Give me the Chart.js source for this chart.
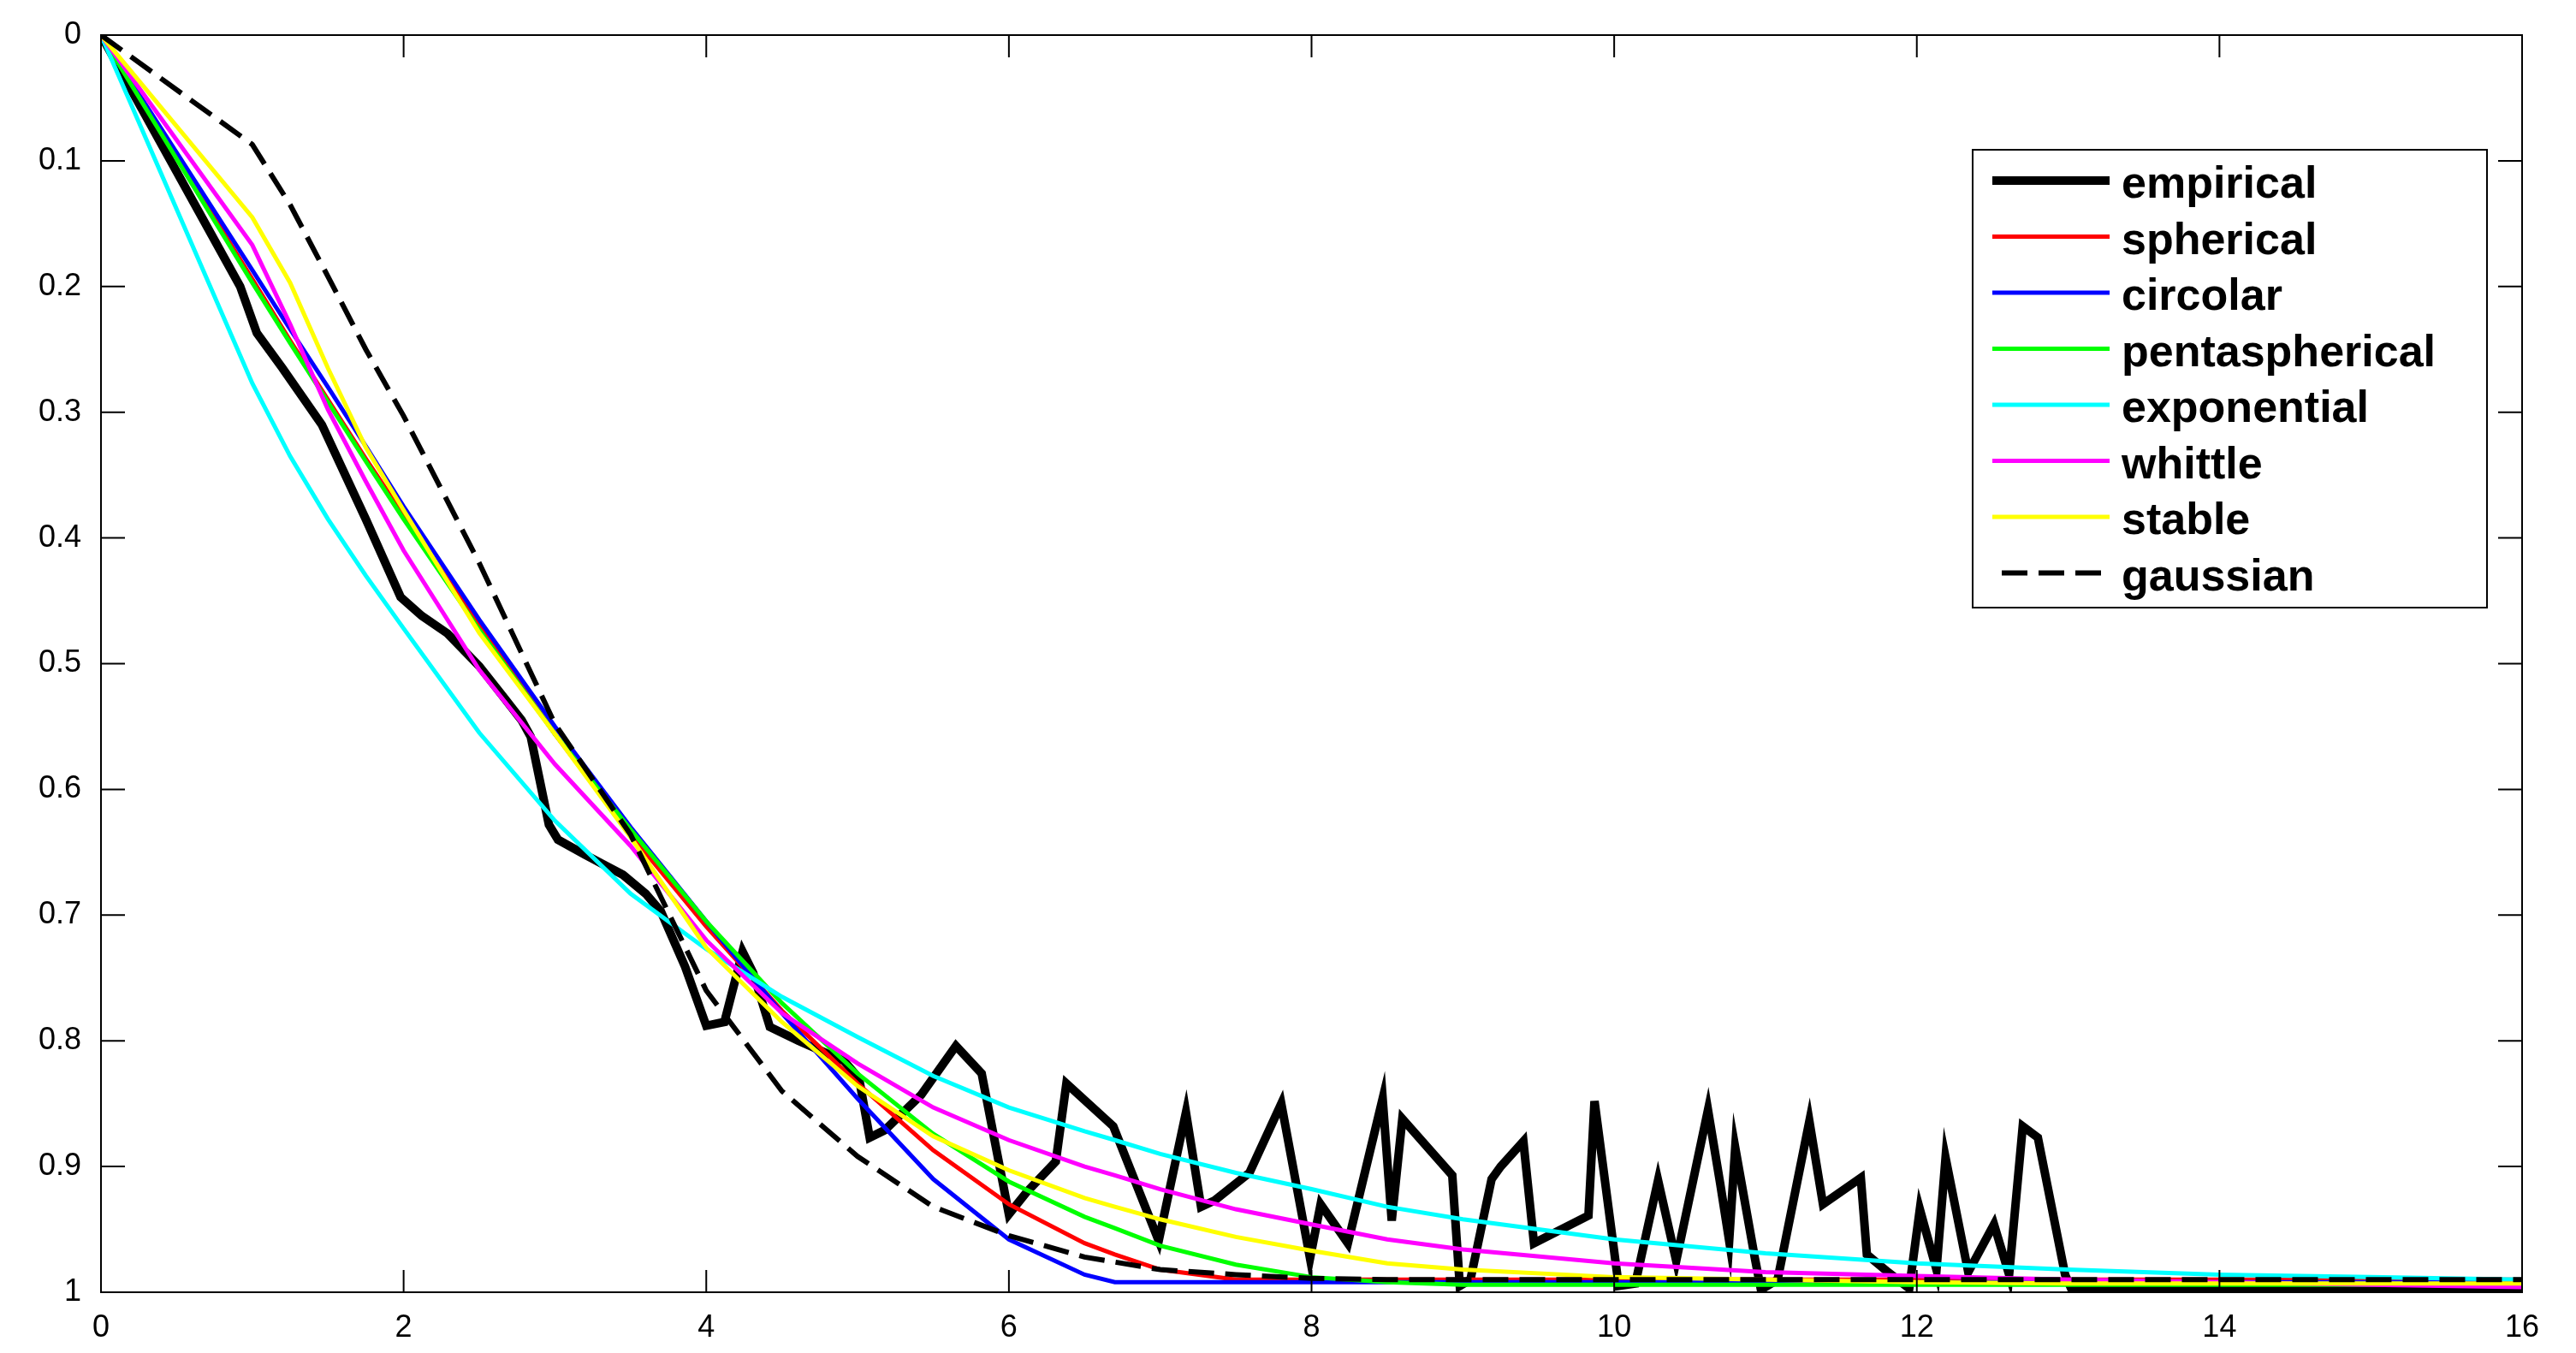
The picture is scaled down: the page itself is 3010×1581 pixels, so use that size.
<!DOCTYPE html>
<html>
<head>
<meta charset="utf-8">
<title>Empirical vs fitted models</title>
<script src="https://cdn.jsdelivr.net/npm/chart.js@4.4.1/dist/chart.umd.min.js"></script>
<style>
  html, body { margin: 0; padding: 0; background: #fff; }
  #wrap { width: 3010px; height: 1581px; }
</style>
</head>
<body>
<div id="wrap"><canvas id="chart" width="3010" height="1581"></canvas></div>
<script>
// axis ticks
const xTicks = [0, 2, 4, 6, 8, 10, 12, 14, 16];
const xTickLabels = ['0', '2', '4', '6', '8', '10', '12', '14', '16'];
const yTicks = [0, 0.1, 0.2, 0.3, 0.4, 0.5, 0.6, 0.7, 0.8, 0.9, 1];
const yTickLabels = ['0', '0.1', '0.2', '0.3', '0.4', '0.5', '0.6', '0.7', '0.8', '0.9', '1'];

// empirical curve (irregular lags)
const empLags = [0, 0.46, 0.92, 1.03, 1.2, 1.46, 1.75, 1.98, 2.12, 2.29, 2.5, 2.67, 2.78, 2.84, 2.9, 2.96, 3.02, 3.2, 3.45, 3.6, 3.7, 3.86,
  4.0, 4.12, 4.24, 4.31, 4.42, 4.61, 4.91, 5.01, 5.08, 5.18, 5.42, 5.65, 5.82, 6.0, 6.12, 6.31, 6.38, 6.69, 6.99, 7.17, 7.27, 7.36, 7.59, 7.8, 7.99,
  8.06, 8.24, 8.47, 8.53, 8.6, 8.93, 8.98, 9.05, 9.19, 9.25, 9.4, 9.47, 9.83, 9.87, 10.03, 10.14, 10.29, 10.41, 10.62, 10.7, 10.76, 10.8,
  10.93, 10.97, 11.08, 11.29, 11.38, 11.63, 11.67, 11.81, 11.95, 12.02, 12.13, 12.19, 12.34, 12.51, 12.61, 12.7, 12.8, 12.98, 13.02, 16];
const empirical = [0, 0.1, 0.2, 0.237, 0.265, 0.31, 0.385, 0.447, 0.462, 0.476, 0.502, 0.528, 0.545, 0.558, 0.593, 0.628, 0.64, 0.652, 0.668, 0.683, 0.697, 0.741,
  0.788, 0.785, 0.729, 0.746, 0.789, 0.8, 0.816, 0.83, 0.877, 0.871, 0.843, 0.804, 0.826, 0.938, 0.92, 0.896, 0.834, 0.868, 0.959, 0.857, 0.932, 0.927, 0.905, 0.85, 0.973,
  0.93, 0.961, 0.846, 0.943, 0.862, 0.907, 0.995, 0.99, 0.91, 0.9, 0.88, 0.961, 0.939, 0.848, 0.995, 0.993, 0.911, 0.975, 0.855, 0.913, 0.959, 0.885,
  0.973, 0.998, 0.99, 0.864, 0.93, 0.909, 0.97, 0.984, 0.997, 0.934, 0.982, 0.893, 0.984, 0.946, 0.986, 0.868, 0.877, 0.986, 0.997, 0.998];

// fitted models, shared lag grid
const modelLags = [0, 1, 1.25, 1.5, 1.75, 2, 2.5, 3, 3.5, 4, 4.5, 5, 5.5, 6, 6.5, 6.7, 7, 7.5, 8, 8.5, 9, 10, 11, 12, 13, 14, 15, 16];
const spherical = [0, 0.194, 0.243, 0.29, 0.337, 0.382, 0.47, 0.556, 0.636, 0.709, 0.776, 0.834, 0.887, 0.93, 0.961, 0.97, 0.982, 0.99, 0.99, 0.99, 0.99, 0.99, 0.99, 0.99, 0.99, 0.99, 0.99, 0.99];
const circolar = [0, 0.187, 0.234, 0.28, 0.327, 0.375, 0.465, 0.55, 0.63, 0.705, 0.778, 0.846, 0.91, 0.958, 0.986, 0.992, 0.992, 0.992, 0.992, 0.992, 0.992, 0.992, 0.992, 0.992, 0.992, 0.992, 0.992, 0.992];
const pentaspherical = [0, 0.197, 0.245, 0.292, 0.339, 0.385, 0.473, 0.556, 0.632, 0.705, 0.77, 0.826, 0.874, 0.912, 0.94, 0.949, 0.963, 0.978, 0.988, 0.992, 0.994, 0.994, 0.994, 0.994, 0.994, 0.994, 0.994, 0.994];
const exponential = [0, 0.277, 0.335, 0.385, 0.43, 0.472, 0.555, 0.625, 0.683, 0.727, 0.765, 0.797, 0.828, 0.853, 0.872, 0.879, 0.89, 0.905, 0.918, 0.932, 0.942, 0.958, 0.969, 0.977, 0.982, 0.986, 0.988, 0.99];
const whittle = [0, 0.167, 0.23, 0.298, 0.355, 0.41, 0.505, 0.58, 0.645, 0.72, 0.778, 0.818, 0.853, 0.879, 0.9, 0.907, 0.918, 0.934, 0.946, 0.958, 0.966, 0.977, 0.984, 0.987, 0.99, 0.992, 0.994, 0.996];
const stable = [0, 0.145, 0.197, 0.265, 0.328, 0.378, 0.4755, 0.556, 0.638, 0.726, 0.785, 0.836, 0.876, 0.903, 0.925, 0.932, 0.942, 0.956, 0.967, 0.977, 0.982, 0.988, 0.99, 0.992, 0.993, 0.993, 0.993, 0.993];
const gaussian = [0, 0.087, 0.135, 0.192, 0.25, 0.303, 0.42, 0.548, 0.636, 0.76, 0.84, 0.892, 0.932, 0.955, 0.972, 0.976, 0.982, 0.986, 0.989, 0.99, 0.99, 0.99, 0.99, 0.99, 0.99, 0.99, 0.99, 0.99];

const FONT = '"Liberation Sans", Arial, sans-serif';
const pts = (xs, ys) => xs.map((x, i) => ({ x, y: ys[i] }));

function line(label, xs, ys, color, width, order, dash) {
  return {
    label, data: pts(xs, ys), borderColor: color, backgroundColor: color,
    borderWidth: width, borderDash: dash || [], pointRadius: 0, tension: 0,
    fill: false, order, borderJoinStyle: 'miter'
  };
}

// box, inward ticks and a MATLAB style legend
const frame = {
  id: 'frame',
  afterDatasetsDraw(chart) {
    const { ctx, chartArea: a, scales } = chart;
    ctx.save();
    ctx.strokeStyle = '#000';
    ctx.lineWidth = 2;
    ctx.setLineDash([]);
    ctx.strokeRect(a.left, a.top, a.right - a.left, a.bottom - a.top);
    ctx.beginPath();
    xTicks.forEach((v) => {
      const px = scales.x.getPixelForValue(v);
      ctx.moveTo(px, a.bottom); ctx.lineTo(px, a.bottom - 26);
      ctx.moveTo(px, a.top); ctx.lineTo(px, a.top + 26);
    });
    yTicks.forEach((v) => {
      const py = scales.y.getPixelForValue(v);
      ctx.moveTo(a.left, py); ctx.lineTo(a.left + 28, py);
      ctx.moveTo(a.right, py); ctx.lineTo(a.right - 28, py);
    });
    ctx.stroke();
    ctx.restore();
  },
  afterDraw(chart) {
    const ctx = chart.ctx;
    const box = { left: 2305, top: 175, right: 2906, bottom: 710 };
    ctx.save();
    ctx.fillStyle = '#fff';
    ctx.fillRect(box.left, box.top, box.right - box.left, box.bottom - box.top);
    ctx.strokeStyle = '#000';
    ctx.lineWidth = 2;
    ctx.strokeRect(box.left, box.top, box.right - box.left, box.bottom - box.top);
    ctx.font = 'bold 52px ' + FONT;
    ctx.textBaseline = 'alphabetic';
    chart.data.datasets.forEach((d, i) => {
      const y = 211 + i * 65.5;
      const dashed = d.borderDash && d.borderDash.length;
      ctx.beginPath();
      ctx.strokeStyle = d.borderColor;
      ctx.lineWidth = d.borderWidth;
      ctx.lineCap = 'butt';
      ctx.setLineDash(dashed ? d.borderDash : []);
      ctx.moveTo(dashed ? 2339 : 2328, y);
      ctx.lineTo(dashed ? 2456 : 2465, y);
      ctx.stroke();
      ctx.setLineDash([]);
      ctx.fillStyle = '#000';
      ctx.fillText(d.label, 2479, y + 20);
    });
    ctx.restore();
  }
};

new Chart(document.getElementById('chart'), {
  type: 'line',
  data: {
    datasets: [
      line('empirical', empLags, empirical, '#000000', 10, 8),
      line('spherical', modelLags, spherical, '#ff0000', 5, 7),
      line('circolar', modelLags, circolar, '#0000ff', 5, 6),
      line('pentaspherical', modelLags, pentaspherical, '#00ff00', 5, 5),
      line('exponential', modelLags, exponential, '#00ffff', 5, 4),
      line('whittle', modelLags, whittle, '#ff00ff', 5, 3),
      line('stable', modelLags, stable, '#ffff00', 5, 2),
      line('gaussian', modelLags, gaussian, '#000000', 6, 1, [30, 13])
    ]
  },
  options: {
    responsive: false,
    animation: false,
    devicePixelRatio: 1,
    layout: { padding: { top: 41, right: 63, left: 0, bottom: 0 } },
    plugins: { legend: { display: false }, tooltip: { enabled: false } },
    scales: {
      x: {
        type: 'linear', min: 0, max: 16,
        afterBuildTicks: (s) => { s.ticks = xTicks.map((v) => ({ value: v })); },
        afterFit: (s) => { s.height = 71; },
        ticks: {
          callback: (v, i) => xTickLabels[i], color: '#000',
          font: { family: FONT, size: 36 }, padding: 12, maxRotation: 0, autoSkip: false
        },
        grid: { display: false },
        border: { display: false }
      },
      y: {
        type: 'linear', min: 0, max: 1, reverse: true,
        afterBuildTicks: (s) => { s.ticks = yTicks.map((v) => ({ value: v })); },
        afterFit: (s) => { s.width = 118; },
        ticks: {
          callback: (v, i) => yTickLabels[i], color: '#000',
          font: { family: FONT, size: 36 }, padding: 15, autoSkip: false
        },
        grid: { display: false },
        border: { display: false }
      }
    }
  },
  plugins: [frame]
});
</script>
</body>
</html>
